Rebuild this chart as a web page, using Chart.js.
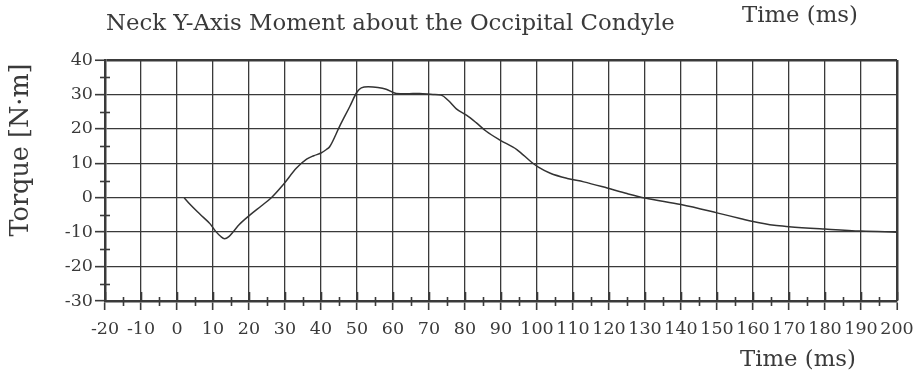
<!DOCTYPE html>
<html>
<head>
<meta charset="utf-8">
<script src="https://cdn.jsdelivr.net/npm/chart.js@4/dist/chart.umd.min.js"></script>
<style>
  html, body { margin: 0; padding: 0; background: #ffffff; }
  canvas { display: block; }
</style>
</head>
<body>
<canvas id="chart" width="915" height="373"></canvas>
<script>
// Text
const chartTitle = 'Neck Y-Axis Moment about the Occipital Condyle';
const timeTitle = 'Time (ms)';
const torqueTitle = 'Torque [N·m]';

// Measured neck moment trace
const timeMs = [
  2, 3.6, 6.4, 9.2, 10.7, 12.1, 13.2, 14.4, 15.7, 17.3,
  20.3, 23.4, 26.2, 29.5, 33.2, 36, 38, 40, 41.5, 42.4,
  45.2, 48, 50, 51.2, 53.1, 55.8, 58.1, 60.9, 63.7, 67.4,
  71.1, 73.4, 75.3, 77.6, 80.4, 83.1, 85.9, 89.6, 94.4, 98.5,
  100.5, 103.7, 108.4, 113, 119.5, 125, 130, 140, 150, 156.7,
  160, 165.9, 170, 180, 190, 200
];
const torqueNm = [
  0, -1.9, -4.8, -7.6, -9.7, -11.2, -11.9, -11.3, -9.8, -7.8,
  -5, -2.4, 0, 3.8, 8.6, 11.2, 12.2, 13, 14, 14.8,
  20.8, 26.5, 30.7, 31.9, 32.2, 32, 31.5, 30.3, 30.2, 30.3,
  30, 29.8, 28.3, 25.8, 24, 21.8, 19.3, 16.8, 14, 10.3,
  8.8, 7.1, 5.6, 4.6, 2.8, 1.2, -0.1, -2, -4.4, -6.1,
  -6.9, -8, -8.4, -9.1, -9.7, -10
];

// Axis ranges (major step 10, minor step 5)
const timeRange = [-20, 200];
const torqueRange = [-30, 40];

const INK = '#3a3a3a';
const GRID = '#3a3a3a';
const SERIF = '"DejaVu Serif", "Liberation Serif", serif';

// Crossing tick marks on both axes plus the text around the plot
const frameDecor = {
  id: 'frameDecor',
  afterDraw(chart) {
    const { ctx, chartArea: a, scales: { x, y } } = chart;
    ctx.save();
    ctx.strokeStyle = INK;
    ctx.lineWidth = 1.6;
    for (let v = timeRange[0]; v <= timeRange[1]; v += 5) {
      const px = Math.round(x.getPixelForValue(v)) + 0.5;
      const major = v % 10 === 0;
      ctx.beginPath();
      ctx.moveTo(px, a.bottom - (major ? 9 : 4));
      ctx.lineTo(px, a.bottom + (major ? 0 : 5));
      ctx.stroke();
    }
    for (let v = torqueRange[0]; v <= torqueRange[1]; v += 5) {
      if (v % 10 === 0) continue;
      const py = Math.round(y.getPixelForValue(v)) + 0.5;
      ctx.beginPath();
      ctx.moveTo(a.left - 5, py);
      ctx.lineTo(a.left + 5, py);
      ctx.stroke();
    }

    ctx.fillStyle = INK;
    ctx.textBaseline = 'alphabetic';
    ctx.textAlign = 'left';
    ctx.font = '22.8px ' + SERIF;
    ctx.fillText(chartTitle, 106, 30);
    ctx.fillText(timeTitle, 742, 22);
    ctx.fillText(timeTitle, 740, 366);

    ctx.translate(21, 150);
    ctx.rotate(-Math.PI / 2);
    ctx.textAlign = 'center';
    ctx.textBaseline = 'middle';
    ctx.font = '25.5px ' + SERIF;
    ctx.fillText(torqueTitle, 0, 0);
    ctx.restore();
  }
};

new Chart(document.getElementById('chart'), {
  type: 'line',
  data: {
    datasets: [{
      data: timeMs.map((t, i) => ({ x: t, y: torqueNm[i] })),
      borderColor: '#333333',
      borderWidth: 1.5,
      pointRadius: 0,
      fill: false,
      cubicInterpolationMode: 'monotone'
    }]
  },
  options: {
    responsive: false,
    devicePixelRatio: 1,
    animation: false,
    layout: { padding: { left: 0, top: 60, right: 18, bottom: 0 } },
    plugins: { legend: { display: false }, tooltip: { enabled: false } },
    scales: {
      x: {
        type: 'linear',
        min: timeRange[0],
        max: timeRange[1],
        afterFit(scale) {
          scale.height = 72;
          scale.paddingLeft = 0;
          scale.paddingRight = 0;
        },
        ticks: {
          stepSize: 10,
          color: INK,
          padding: 9,
          maxRotation: 0,
          autoSkip: false,
          font: { family: SERIF, size: 17.5 }
        },
        grid: {
          color: GRID,
          lineWidth: ctx => (ctx.tick && ctx.tick.value === timeRange[1] ? 2.5 : 1.3),
          tickLength: 9,
          tickColor: INK,
          tickWidth: 1.6
        },
        border: { color: INK, width: 2.5 }
      },
      y: {
        type: 'linear',
        min: torqueRange[0],
        max: torqueRange[1],
        afterFit(scale) {
          scale.width = 105;
          scale.paddingTop = 0;
          scale.paddingBottom = 0;
        },
        ticks: {
          stepSize: 10,
          color: INK,
          padding: 2,
          font: { family: SERIF, size: 17.5 }
        },
        grid: {
          color: GRID,
          lineWidth: ctx => (ctx.tick && ctx.tick.value === torqueRange[1] ? 2.5 : 1.3),
          tickLength: 10,
          tickColor: INK,
          tickWidth: 1.6
        },
        border: { color: INK, width: 2.5 }
      }
    }
  },
  plugins: [frameDecor]
});
</script>
</body>
</html>
